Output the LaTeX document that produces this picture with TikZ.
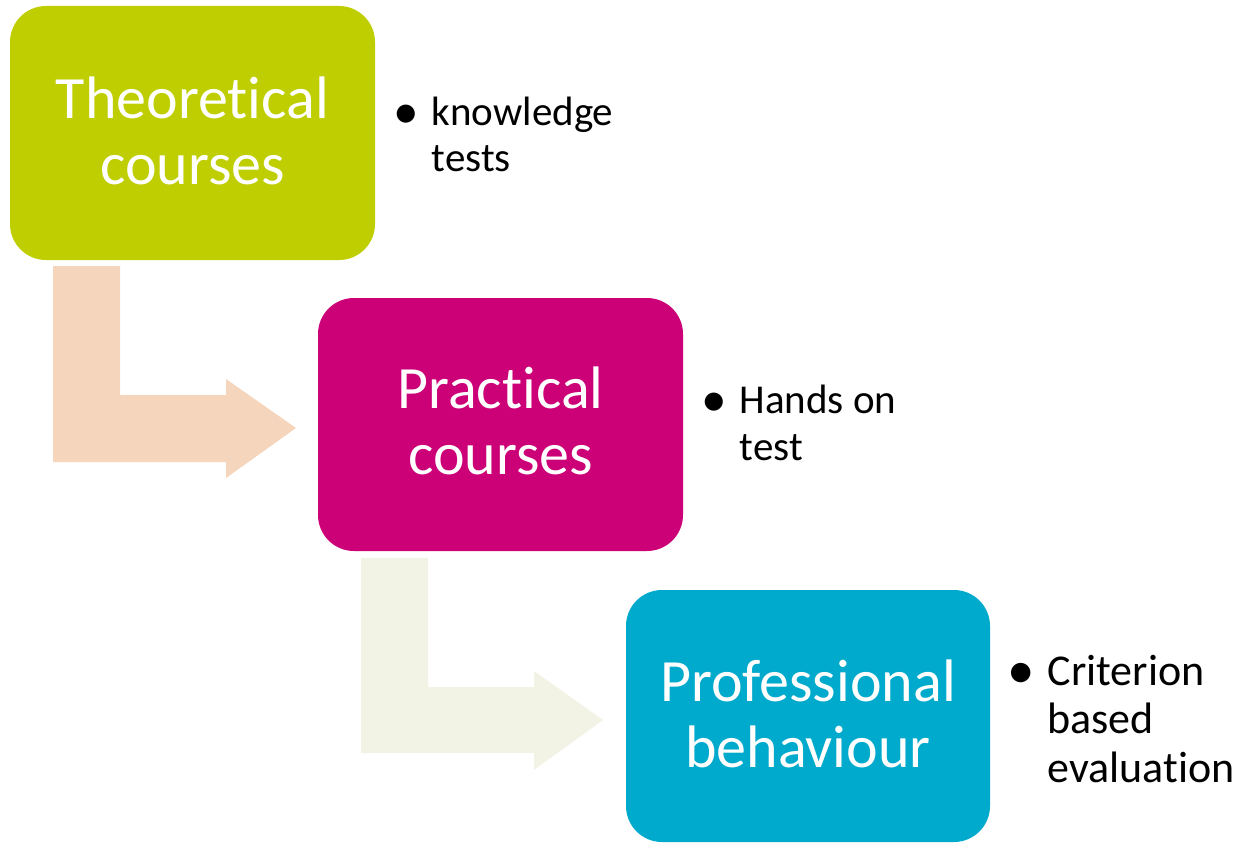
\documentclass[tikz,border=0pt]{standalone}
\usepackage{fontspec}
\setmainfont[Ligatures=NoCommon]{Carlito}
\definecolor{limeC}{RGB}{190,206,0}
\definecolor{magC}{RGB}{204,0,119}
\definecolor{cyanC}{RGB}{0,170,204}
\definecolor{peachC}{RGB}{246,213,189}
\definecolor{paleC}{RGB}{242,243,229}
\tikzset{
  stagebox/.style={text=white, align=center,
    font=\fontsize{60}{66}\selectfont},
  bullettext/.style={anchor=base west, inner sep=0pt, align=left},
}
\newcommand{\bigbul}{\raisebox{-3pt}{\scalebox{1.25}{\textbullet}}}
\newcommand{\bulletlist}[1]{\begin{tabular}[t]{@{}l@{\hspace{13pt}}l@{}}#1\end{tabular}}
\begin{document}
\begin{tikzpicture}[x=1pt,y=-1pt]
\useasboundingbox (0,0) rectangle (1243,843);
% bent arrows
\fill[peachC] (53,266) -- (120,266) -- (120,395) -- (226,395) -- (226,379)
  -- (296,428) -- (226,478) -- (226,462) -- (53,462) -- cycle;
\fill[paleC] (361,558) -- (428,558) -- (428,687) -- (534,687) -- (534,671)
  -- (603,720) -- (534,770) -- (534,753) -- (361,753) -- cycle;
% boxes
\fill[limeC, rounded corners=36pt] (10,6) rectangle (375,260);
\node[stagebox] (b1) at (192.5,131) {Theoretical\\courses};
\fill[magC, rounded corners=36pt] (318,298) rectangle (683,551);
\node[stagebox] (b2) at (500.5,421) {Practical\\courses};
\fill[cyanC, rounded corners=36pt] (626,590) rectangle (990,842);
\node[stagebox] (b3) at (808,714) {Professional\\behaviour};
% bullets
\node[bullettext, font=\fontsize{41}{46}\selectfont] (t1) at (393,125)
  {\bulletlist{\bigbul & knowledge\\ & tests}};
\node[bullettext, font=\fontsize{41}{47}\selectfont] (t2) at (701,413)
  {\bulletlist{\bigbul & Hands on\\ & test}};
\node[bullettext, font=\fontsize{44}{48.5}\selectfont] (t3) at (1007,685)
  {\bulletlist{\bigbul & Criterion\\ & based\\ & evaluation}};
\end{tikzpicture}
\end{document}
